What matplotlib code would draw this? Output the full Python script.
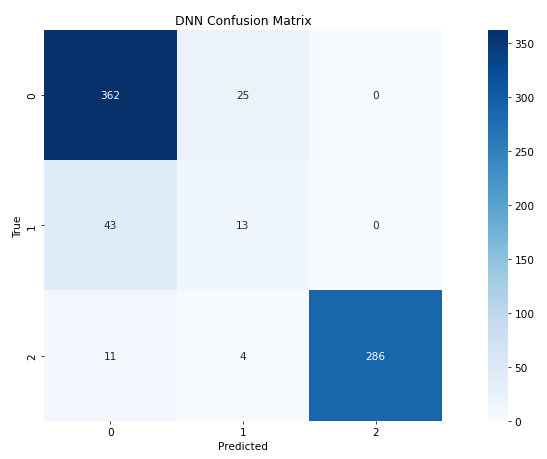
import matplotlib
matplotlib.use("Agg")
import matplotlib.pyplot as plt
import numpy as np
import seaborn as sns

labels = ["0", "1", "2"]
row_true_0 = [362, 25, 0]
row_true_1 = [43, 13, 0]
row_true_2 = [11, 4, 286]

cm = np.array([row_true_0, row_true_1, row_true_2])

plt.rcParams["font.size"] = 11

fig = plt.figure(figsize=(8, 6.725), dpi=68.4)
ax = fig.add_axes([0.080, 0.083, 0.728, 0.850])
cax = fig.add_axes([0.892, 0.083, 0.036, 0.850])

sns.heatmap(cm, annot=True, fmt="d", cmap="Blues", ax=ax, cbar_ax=cax,
            xticklabels=labels, yticklabels=labels,
            annot_kws={"fontsize": 11})
ax.set_title("DNN Confusion Matrix", fontsize=13)
ax.set_xlabel("Predicted", fontsize=11)
ax.set_ylabel("True", fontsize=11)
ax.tick_params(labelsize=11)
cax.tick_params(labelsize=11)

fig.savefig("out.png", dpi=68.4)
